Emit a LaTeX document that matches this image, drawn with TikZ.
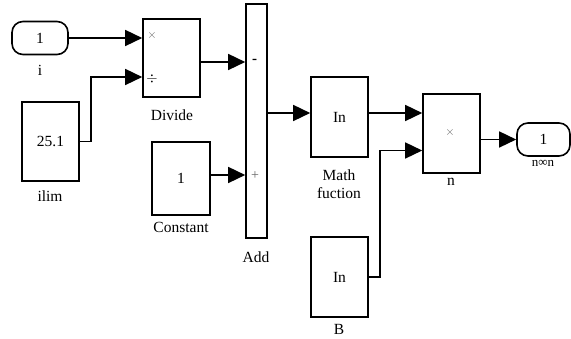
\documentclass[tikz,border=0pt]{standalone}
\usepackage{fontspec}
\setmainfont{Liberation Serif}
\usetikzlibrary{arrows.meta,calc}
\begin{document}
\begin{tikzpicture}[x=1pt,y=-1pt,
  blk/.style={draw, line width=1.6pt, inner sep=0pt, font=\fontsize{15.5}{18}\selectfont},
  port/.style={blk, rounded corners=11pt},
  lbl/.style={inner sep=0pt, font=\fontsize{15.5}{18}\selectfont, align=center},
  sym/.style={inner sep=0pt, font=\fontsize{12}{12}\selectfont, text=black!60},
  arr/.style={-{Triangle[length=17pt,width=16pt]}, line width=1.5pt},
  wire/.style={line width=1.5pt}]
\useasboundingbox (0,0) rectangle (571,339);
% blocks
\node[port, minimum width=56pt, minimum height=33pt] (in) at (40,38) {1};
\node[blk, minimum width=57pt, minimum height=78pt] (dv) at (171.5,58) {};
\node[blk, minimum width=57pt, minimum height=79pt] (il) at (50.5,141.5) {25.1};
\node[blk, minimum width=58pt, minimum height=73pt] (cst) at (181,178.5) {1};
\node[blk, minimum width=21pt, minimum height=234pt] (add) at (256.5,121) {};
\node[blk, minimum width=57pt, minimum height=80pt] (mf) at (339.5,117) {In};
\node[blk, minimum width=57pt, minimum height=79pt] (nb) at (451.5,133.5) {};
\node[blk, minimum width=57pt, minimum height=80pt] (bb) at (339.5,277) {In};
\node[port, minimum width=53pt, minimum height=33pt] (out) at (543.5,139.5) {1};
% port symbols
\node[sym] (dvx) at (152,36) {$\times$};
\node[sym, font=\fontsize{15}{15}\selectfont, text=black] (dvd) at (152,79) {$\div$};
\node[inner sep=0pt, font=\bfseries\fontsize{15}{15}\selectfont] (am) at (254.5,61) {-};
\node[sym, font=\fontsize{14}{14}\selectfont] (ap) at (255,176) {+};
\node[sym] (nx) at (450,133) {$\times$};
% labels
\node[lbl] (li) at (40,70) {i};
\node[lbl] (ldv) at (172,115) {Divide};
\node[lbl] (lil) at (50,196) {ilim};
\node[lbl] (lcst) at (181,227) {Constant};
\node[lbl] (ladd) at (256,257) {Add};
\node[lbl] (lmf) at (339,184) {Math\\fuction};
\node[lbl] (lnb) at (451,182) {n};
\node[lbl] (lbb) at (339,329) {B};
\node[lbl, font=\fontsize{13}{13}\selectfont] (lout) at (543,163) {n∞n};
% port coordinates
\coordinate (dvin1) at ($(dv.west)+(0,-20)$);
\coordinate (dvin2) at ($(dv.west)+(0,19)$);
\coordinate (dvout) at ($(dv.east)+(0,4)$);
\coordinate (addin1) at (add.west |- dvout);
\coordinate (addin2) at ($(add.west)+(0,54)$);
\coordinate (addout) at ($(add.east)+(0,-8)$);
\coordinate (mfin) at (mf.west |- addout);
\coordinate (mfout) at ($(mf.east)+(0,-4)$);
\coordinate (nin1) at (nb.west |- mfout);
\coordinate (nin2) at ($(nb.west)+(0,17)$);
\coordinate (nout) at (nb.east |- out.west);
% connectors
\draw[arr] (in.east) -- (in.east -| dvin1);
\draw[arr] (il.east) -- ++(11,0) |- (dvin2);
\draw[arr] (dvout) -- (addin1);
\draw[arr] (cst.east |- addin2) -- (addin2);
\draw[arr] (addout) -- (mfin);
\draw[arr] (mfout) -- (nin1);
\draw[arr] (bb.east) -- ++(11,0) |- (nin2);
\draw[arr] (nout) -- (out.west);
\end{tikzpicture}
\end{document}
